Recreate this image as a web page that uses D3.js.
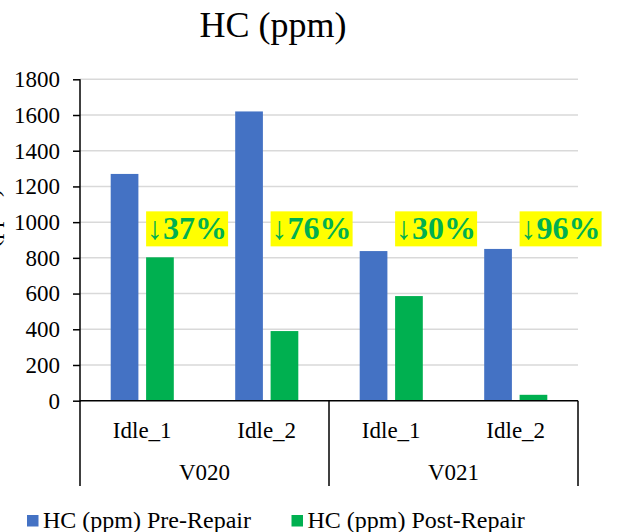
<!DOCTYPE html>
<html>
<head>
<meta charset="utf-8">
<script src="https://cdn.jsdelivr.net/npm/d3@7"></script>
<style>
  html, body { margin: 0; padding: 0; background: #fff; }
  svg { display: block; }
  svg text { font-family: "Liberation Serif", "Times New Roman", serif; }
</style>
</head>
<body>
<svg id="chart" width="628" height="532"></svg>
<script>
// data
const vehicles = ["V020", "V021"];
const modes = ["Idle_1", "Idle_2"];
const series = ["HC (ppm) Pre-Repair", "HC (ppm) Post-Repair"];
const preRepair = [1270, 1620, 838, 850];
const postRepair = [803, 390, 586, 33];
const reductions = ["↓37%", "↓76%", "↓30%", "↓96%"];
const yTicks = [0, 200, 400, 600, 800, 1000, 1200, 1400, 1600, 1800];

(() => {
    const colors = ["#4472C4", "#00B050"];
    const svg = d3.select("#chart");
    const left = 80, right = 578, top = 79.3, bottom = 400.7;

    const rows = [];
    vehicles.forEach((v, i) => modes.forEach((m, j) => {
        const k = i * modes.length + j;
        rows.push({ key: v + "|" + m, vehicle: v, mode: m, values: [preRepair[k], postRepair[k]], label: reductions[k] });
    }));

    const x = d3.scaleBand().domain(rows.map(d => d.key)).range([left, right]);
    const xs = d3.scaleBand().domain(series).range([0, x.bandwidth()])
        .paddingInner(0.2175).paddingOuter(0.867);
    const y = d3.scaleLinear().domain([0, 1800]).range([bottom, top]);

    // title
    svg.append("text").attr("x", 273).attr("y", 37).attr("text-anchor", "middle")
        .attr("font-size", 36).attr("fill", "#000").text("HC (ppm)");

    // y axis title, mostly cut off at the left edge
    svg.append("text").attr("transform", "translate(-1,238) rotate(-90)")
        .attr("text-anchor", "middle").attr("font-size", 24).text("HC (ppm)");

    // gridlines
    svg.append("g").selectAll("line").data(yTicks.filter(t => t > 0)).join("line")
        .attr("x1", left).attr("x2", right)
        .attr("y1", d => y(d)).attr("y2", d => y(d))
        .attr("stroke", "#d9d9d9").attr("stroke-width", 1.5);

    // bars
    const grp = svg.append("g").selectAll("g").data(rows).join("g")
        .attr("transform", d => `translate(${x(d.key)},0)`);
    grp.selectAll("rect").data(d => d.values.map((v, i) => ({ s: series[i], v, i }))).join("rect")
        .attr("x", d => xs(d.s)).attr("width", xs.bandwidth())
        .attr("y", d => y(d.v)).attr("height", d => y(0) - y(d.v))
        .attr("fill", d => colors[d.i]);

    // y axis
    const yAxis = svg.append("g").attr("transform", `translate(${left},0)`)
        .call(d3.axisLeft(y).tickValues(yTicks).tickFormat(d3.format("d")).tickSize(7).tickPadding(13));
    yAxis.attr("font-family", null).attr("font-size", null);
    yAxis.selectAll("text").attr("font-size", 23).attr("fill", "#000");
    yAxis.selectAll("line, path").attr("stroke", "#000").attr("stroke-width", 1.5);
    yAxis.select("path").attr("d", `M0,${top}V${bottom + 1}`);

    // category axis (two levels)
    const axisG = svg.append("g");
    axisG.append("line").attr("x1", left).attr("x2", right).attr("y1", bottom).attr("y2", bottom)
        .attr("stroke", "#000").attr("stroke-width", 1.5);
    const sepX = [left].concat(vehicles.map(v => x(v + "|" + modes[modes.length - 1]) + x.bandwidth()));
    axisG.selectAll(".sep").data(sepX).join("line")
        .attr("x1", d => d).attr("x2", d => d).attr("y1", bottom).attr("y2", 486)
        .attr("stroke", "#000").attr("stroke-width", 1.5);
    axisG.selectAll(".mode").data(rows).join("text")
        .attr("x", d => x(d.key) + x.bandwidth() / 2).attr("y", 438)
        .attr("text-anchor", "middle").attr("font-size", 23).text(d => d.mode);
    axisG.selectAll(".veh").data(vehicles).join("text")
        .attr("x", v => (x(v + "|" + modes[0]) + x(v + "|" + modes[modes.length - 1]) + x.bandwidth()) / 2)
        .attr("y", 480).attr("text-anchor", "middle").attr("font-size", 23).text(v => v);

    // reduction labels
    const labelLevel = 870;
    const lab = svg.append("g").selectAll("g").data(rows).join("g");
    lab.each(function (d) {
        const g = d3.select(this);
        const bx = x(d.key) + xs(series[1]);
        const rect = g.append("rect").attr("fill", "#FFFF00");
        const t = g.append("text").attr("x", bx + 1).attr("y", y(labelLevel) - 6)
            .attr("font-size", 32).attr("font-weight", "bold").attr("fill", "#00B050").text(d.label);
        const bb = t.node().getBBox();
        rect.attr("x", bx).attr("y", bb.y + 1).attr("width", bb.width + 2).attr("height", bb.height - 1);
    });

    // legend
    const legend = svg.append("g");
    const legX = [27, 291.5];
    series.forEach((s, i) => {
        legend.append("rect").attr("x", legX[i]).attr("y", 515).attr("width", 11.5).attr("height", 11.5)
            .attr("fill", colors[i]);
        legend.append("text").attr("x", legX[i] + 16).attr("y", 528).attr("font-size", 24).text(s);
    });
})();
</script>
</body>
</html>
